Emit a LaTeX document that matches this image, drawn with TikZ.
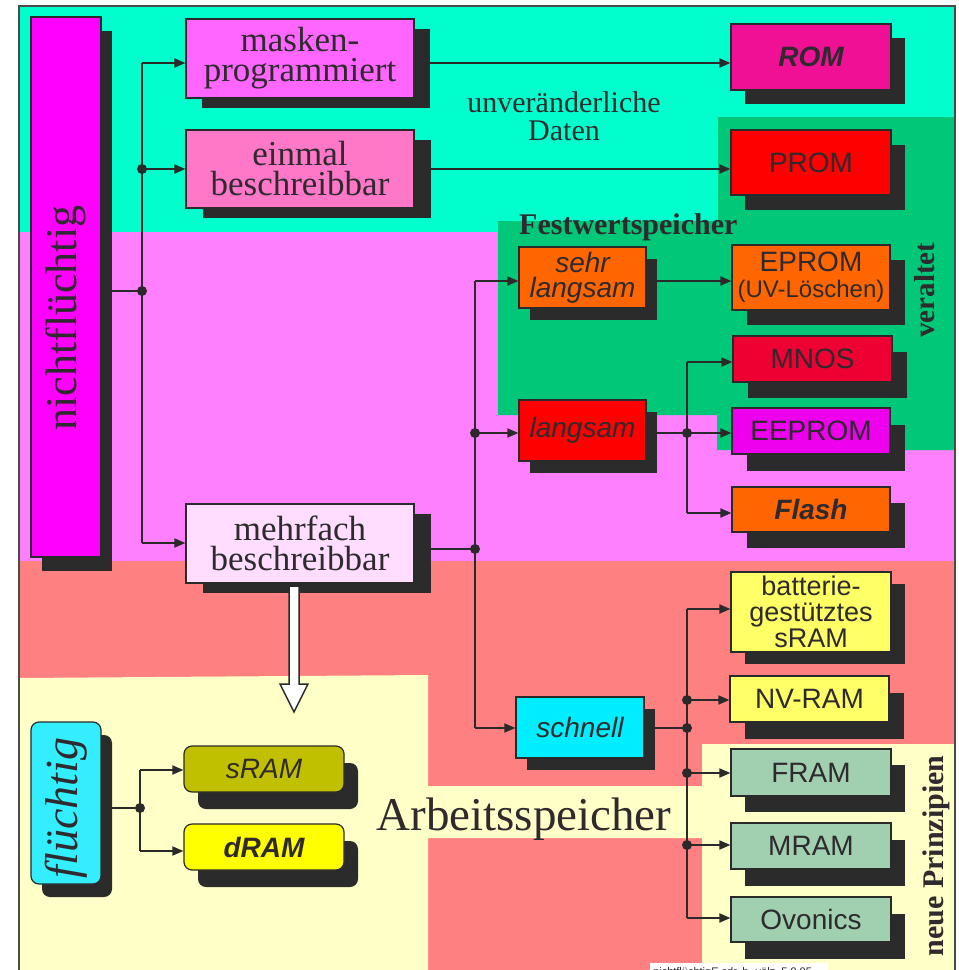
\documentclass[tikz,border=0pt]{standalone}
\usepackage{fontspec}
\setmainfont{Liberation Serif}
\setsansfont{Liberation Sans}
\usetikzlibrary{arrows.meta,shadows}

\definecolor{linec}{HTML}{2A2A2A}
\definecolor{textc}{HTML}{2E2A2E}
\definecolor{shadowc}{HTML}{2B2B2B}
\definecolor{framec}{HTML}{4A4A4A}
\definecolor{teal}{HTML}{00FFCC}
\definecolor{fwgreen}{HTML}{00C878}
\definecolor{pinkband}{HTML}{FF80FF}
\definecolor{salmon}{HTML}{FF8080}
\definecolor{cream}{HTML}{FFFFC8}
\definecolor{cmagenta}{HTML}{FF00FF}
\definecolor{cmask}{HTML}{FF66FF}
\definecolor{ceinmal}{HTML}{FF78C8}
\definecolor{cmehr}{HTML}{FFDDFF}
\definecolor{crom}{HTML}{F01096}
\definecolor{cred}{HTML}{FF0000}
\definecolor{corange}{HTML}{FF6600}
\definecolor{cmnos}{HTML}{EE0033}
\definecolor{ceeprom}{HTML}{EE00EE}
\definecolor{ccyan}{HTML}{00EEFF}
\definecolor{cfcyan}{HTML}{33EEFF}
\definecolor{cyell}{HTML}{FFFF66}
\definecolor{csage}{HTML}{A0D0B0}
\definecolor{colive}{HTML}{C0C000}
\definecolor{cdram}{HTML}{FFFF00}

\pgfdeclarelayer{bg}
\pgfdeclarelayer{mid}
\pgfsetlayers{bg,mid,main}

\tikzset{
  box/.style={draw=linec, line width=1.2pt, inner sep=0pt, align=center, text=textc},
  shd/.style 2 args={general shadow={fill=shadowc, shadow xshift=#1pt, shadow yshift=-#2pt}},
  serifbig/.style={font=\fontsize{35}{30}\selectfont},
  sansbox/.style={font=\sffamily\fontsize{28}{26}\selectfont},
  ln/.style={draw=linec, line width=1.8pt},
  arr/.style={ln, -{Triangle[length=11pt,width=9pt]}},
  dot/.style={fill=linec},
}

\begin{document}
\begin{tikzpicture}[x=1pt,y=-1pt]
\useasboundingbox (0,0) rectangle (959,970);

% ---------- coloured areas ----------
\begin{pgfonlayer}{bg}
  \fill[white] (0,0) rectangle (959,970);
  \fill[teal] (19,6) rectangle (955,232);
  \fill[pinkband] (19,232) rectangle (955,561);
  \fill[salmon] (19,561) rectangle (955,975);
  \fill[fwgreen] (498,221) -- (718,221) -- (718,117) -- (955,117) -- (955,450)
       -- (717,450) -- (717,415) -- (498,415) -- cycle;
  \fill[cream] (19,678) -- (428,675) -- (428,786) -- (702,786) -- (702,744)
       -- (955,744) -- (955,975) -- (702,975) -- (702,838) -- (428,838)
       -- (428,975) -- (19,975) -- cycle;
  \draw[framec, line width=1.5pt] (19,975) -- (19,6) -- (955,6) -- (955,975);
  \fill[white] (650,963) rectangle (828,975);
\end{pgfonlayer}

% ---------- boxes ----------
\node[box, fill=cmagenta, shd={11}{14}, minimum width=70pt, minimum height=540pt] (nf) at (66,287) {};
\node[text=textc, rotate=90, font=\fontsize{44}{44}\selectfont] (nft) at (66,318) {nichtflüchtig};

\node[box, serifbig, fill=cmask, shd={16}{10}, minimum width=228pt, minimum height=79pt] (mask) at (300,58.5) {masken-\\programmiert};
\node[box, serifbig, fill=ceinmal, shd={17}{10}, minimum width=228pt, minimum height=78pt] (einm) at (300,169) {einmal\\beschreibbar};
\node[box, serifbig, fill=cmehr, shd={17}{10}, minimum width=228pt, minimum height=79pt] (mehr) at (300,543.5) {mehrfach\\beschreibbar};

\node[box, sansbox, fill=crom, shd={14}{14}, minimum width=160pt, minimum height=66pt] (rom) at (811,57) {\bfseries\itshape ROM};
\node[box, sansbox, fill=cred, shd={14}{15}, minimum width=160pt, minimum height=65pt] (prom) at (811,162.5) {PROM};

\node[box, font=\sffamily\itshape\fontsize{28}{25}\selectfont, fill=corange, shd={11}{12}, minimum width=127pt, minimum height=61pt] (sehr) at (582.5,277.5) {sehr\\langsam};
\node[box, font=\sffamily\fontsize{28}{26}\selectfont, fill=corange, shd={15}{15}, minimum width=158pt, minimum height=65pt] (eprom) at (811,277.5) {EPROM\\{\fontsize{24}{26}\selectfont (UV-Löschen)}};
\node[box, sansbox, fill=cmnos, shd={15}{16}, minimum width=159pt, minimum height=46pt] (mnos) at (812.5,359) {MNOS};
\node[box, sansbox, fill=ceeprom, shd={15}{17}, minimum width=158pt, minimum height=46pt] (eeprom) at (811,431) {EEPROM};
\node[box, sansbox, fill=corange, shd={15}{16}, minimum width=158pt, minimum height=45pt] (flash) at (811,509.5) {\bfseries\itshape Flash};
\node[box, sansbox, fill=cred, shd={11}{12}, minimum width=127pt, minimum height=61pt] (lang) at (582.5,430.5) {\itshape langsam};

\node[box, sansbox, fill=ccyan, shd={11}{12}, minimum width=128pt, minimum height=61pt] (schn) at (580,727.5) {\itshape schnell};
\node[box, font=\sffamily\fontsize{27}{26}\selectfont, fill=cyell, shd={14}{12}, minimum width=160pt, minimum height=80pt] (batt) at (811,612) {batterie-\\gestütztes\\sRAM};
\node[box, sansbox, fill=cyell, shd={15}{17}, minimum width=159pt, minimum height=46pt] (nvram) at (809.5,699) {NV-RAM};
\node[box, sansbox, fill=csage, shd={14}{16}, minimum width=160pt, minimum height=47pt] (fram) at (811,772.5) {FRAM};
\node[box, sansbox, fill=csage, shd={14}{17}, minimum width=160pt, minimum height=46pt] (mram) at (811,846) {MRAM};
\node[box, sansbox, fill=csage, shd={14}{17}, minimum width=160pt, minimum height=45pt] (ovon) at (811,919.5) {Ovonics};

\node[box, fill=cfcyan, rounded corners=8pt, shd={11}{13}, minimum width=70pt, minimum height=162pt] (fl) at (66,803) {};
\node[text=textc, rotate=90, font=\itshape\fontsize{46}{46}\selectfont] (flt) at (66,808) {flüchtig};
\node[box, sansbox, fill=colive, rounded corners=8pt, shd={14}{17}, minimum width=160pt, minimum height=46pt] (sram) at (264,769) {\itshape sRAM};
\node[box, sansbox, fill=cdram, rounded corners=8pt, shd={14}{17}, minimum width=160pt, minimum height=46pt] (dram) at (264,847) {\bfseries\itshape dRAM};

% ---------- area labels ----------
\node[text=textc, align=center, font=\fontsize{30}{28}\selectfont] (daten) at (564,116) {unveränderliche\\Daten};
\node[text=textc, anchor=base west, font=\bfseries\fontsize{30}{30}\selectfont, inner sep=0pt] (fws) at (519,234) {Festwertspeicher};
\node[text=textc, rotate=90, font=\bfseries\fontsize{29}{29}\selectfont] (veraltet) at (925,290) {veraltet};
\node[text=textc, rotate=90, font=\bfseries\fontsize{30}{30}\selectfont] (neue) at (936,856) {neue Prinzipien};
\node[text=textc, anchor=base, font=\fontsize{47}{47}\selectfont, inner sep=0pt] (arbeit) at (524,830) {Arbeitsspeicher};
\node[text=textc, anchor=base west, font=\sffamily\fontsize{11}{11}\selectfont, inner sep=0pt] (fname) at (653,975) {nichtflüchtigE.cdr, h. völz, 5.9.05};

% ---------- junction points ----------
\coordinate (a1) at (142,63);
\coordinate (a2) at (142,169);
\coordinate (a3) at (142,291);
\coordinate (a4) at (142,543);
\coordinate (b0) at (475,549);
\coordinate (b1) at (475,281);
\coordinate (b2) at (475,433);
\coordinate (b3) at (475,728);
\coordinate (c0) at (687,433);
\coordinate (c1) at (687,362);
\coordinate (c3) at (687,513);
\coordinate (d0) at (687,728);
\coordinate (d1) at (687,609);
\coordinate (d2) at (687,700);
\coordinate (d4) at (687,773);
\coordinate (d5) at (687,845);
\coordinate (d6) at (687,918);
\coordinate (e0) at (140,808);
\coordinate (e1) at (140,770);
\coordinate (e2) at (140,851);

% ---------- connectors ----------
\begin{pgfonlayer}{mid}
  % nichtfluechtig tree
  \draw[ln] (nf.east |- a3) -- (a3);
  \draw[ln] (a1) -- (a4);
  \draw[arr] (a1) -- (mask.west |- a1);
  \draw[arr] (a2) -- (einm.west |- a2);
  \draw[arr] (a4) -- (mehr.west |- a4);
  \draw[arr] (mask.east |- a1) -- (rom.west |- a1);
  \draw[arr] (einm.east |- a2) -- (prom.west |- a2);
  % mehrfach beschreibbar
  \draw[ln] (mehr.east |- b0) -- (b0);
  \draw[ln] (b1) -- (b3);
  \draw[arr] (b1) -- (sehr.west |- b1);
  \draw[arr] (b2) -- (lang.west |- b2);
  \draw[arr] (b3) -- (schn.west |- b3);
  \draw[arr] (sehr.east |- b1) -- (eprom.west |- b1);
  % langsam
  \draw[ln] (lang.east |- c0) -- (c0);
  \draw[ln] (c1) -- (c3);
  \draw[arr] (c1) -- (mnos.west |- c1);
  \draw[arr] (c0) -- (eeprom.west |- c0);
  \draw[arr] (c3) -- (flash.west |- c3);
  % schnell
  \draw[ln] (schn.east |- d0) -- (d0);
  \draw[ln] (d1) -- (d6);
  \draw[arr] (d1) -- (batt.west |- d1);
  \draw[arr] (d2) -- (nvram.west |- d2);
  \draw[arr] (d4) -- (fram.west |- d4);
  \draw[arr] (d5) -- (mram.west |- d5);
  \draw[arr] (d6) -- (ovon.west |- d6);
  % fluechtig
  \draw[ln] (fl.east |- e0) -- (e0);
  \draw[ln] (e1) -- (e2);
  \draw[arr] (e1) -- (sram.west |- e1);
  \draw[arr] (e2) -- (dram.west |- e2);
  % junction dots
  \foreach \p in {a2,a3,b0,b2,c0,d0,d2,d4,d5,e0}
    \fill[dot] (\p) circle (5pt);
\end{pgfonlayer}

% ---------- hollow arrow to the volatile part ----------
\draw[fill=white, draw=linec, line width=1.5pt, line join=miter]
  (289,586) -- (299,586) -- (299,684) -- (308,684) -- (294,712)
  -- (280,684) -- (289,684) -- cycle;

\end{tikzpicture}
\end{document}
